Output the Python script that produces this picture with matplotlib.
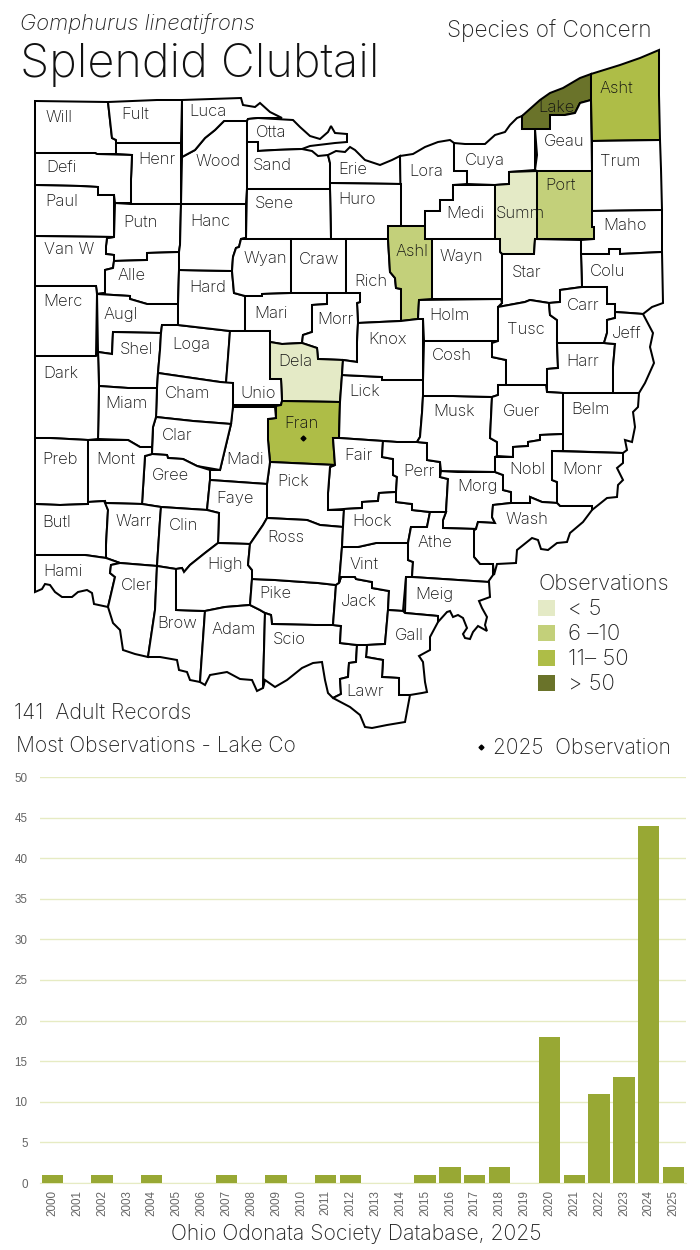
import matplotlib
matplotlib.use("Agg")
import matplotlib.pyplot as plt
from matplotlib.patches import Polygon, Rectangle

TEXT_FONT = "Inter"
plt.rcParams["font.family"] = [TEXT_FONT, "DejaVu Sans"]
plt.rcParams["font.weight"] = "light"

# bar chart data
years = list(range(2000, 2026))
counts = [1, 0, 1, 0, 1, 0, 0, 1, 0, 1, 0, 1, 1, 0, 0, 1, 2, 1, 2, 0, 18, 1, 11, 13, 44, 2]
y_ticks = [0, 5, 10, 15, 20, 25, 30, 35, 40, 45, 50]

# legend
class_labels = ["< 5", "6 –10", "11– 50", "> 50"]
class_colors = ["#E4EAC6", "#C3D07A", "#AEBD47", "#6A732A"]

# county outlines (pixel coords)
WILL = [(35,101),(108,102),(112,138),(116,140),(116,154),(97,154),(95,153),(35,153)]
FULT = [(108,102),(157,100),(182,100),(181,143),(116,143),(116,140),(112,138)]
HENR = [(116,143),(181,143),(181,204),(131,204),(131,179),(132,155),(116,154)]
DEFI = [(35,153),(95,153),(97,154),(132,155),(131,179),(131,203),(115,203),(114,195),(98,195),(98,187),(80,186),(35,185)]
PAUL = [(35,185),(80,186),(98,187),(98,195),(114,195),(114,237),(35,236)]
PUTN = [(115,203),(131,204),(181,204),(180,245),(179,252),(147,253),(147,260),(114,261),(114,255),(106,254),(106,246),(107,238),(114,237)]
VANW = [(35,236),(114,237),(107,238),(106,246),(106,254),(114,255),(114,261),(113,268),(105,270),(105,293),(97,294),(96,286),(35,286)]
ALLE = [(105,270),(113,268),(114,261),(147,260),(147,253),(179,252),(179,270),(178,304),(147,304),(130,299),(130,296),(97,294),(105,293)]
MERC = [(35,286),(96,286),(97,294),(96,356),(35,356)]
AUGL = [(97,294),(130,296),(130,299),(147,304),(178,304),(178,325),(162,325),(161,333),(113,332),(112,354),(98,352)]
SHEL = [(113,332),(161,333),(160,350),(158,373),(157,388),(128,388),(99,386),(98,352),(112,354)]
LOGA = [(162,325),(178,325),(230,331),(228,360),(226,383),(220,382),(158,373),(160,350),(161,333)]
HARD = [(179,270),(232,271),(234,293),(245,296),(245,331),(230,331),(178,325),(178,304)]
HANC = [(181,204),(246,204),(246,238),(241,239),(239,247),(236,248),(233,257),(232,271),(179,270),(179,252),(180,245)]
WOOD = [(182,157),(195,150),(205,138),(215,130),(224,121),(247,121),(247,189),(246,204),(181,204)]
LUCA = [(182,100),(241,98),(243,105),(255,107),(260,103),(270,112),(282,118),(258,118),(248,119),(247,121),(224,121),(215,130),(205,138),(195,150),(182,157)]
OTTA = [(247,121),(248,119),(258,118),(293,120),(300,127),(310,136),(320,139),(328,132),(331,126),(335,133),(347,134),(347,142),(335,143),(310,146),(302,149),(275,150),(258,151),(258,142),(247,142)]
SAND = [(247,142),(258,142),(258,151),(275,150),(302,149),(312,151),(318,156),(328,155),(330,163),(330,189),(247,189)]
ERIE = [(330,163),(328,155),(336,151),(345,152),(350,147),(355,150),(365,160),(380,165),(392,160),(400,156),(401,184),(330,183)]
LORA = [(400,156),(413,154),(425,147),(438,142),(450,140),(454,143),(454,171),(467,171),(467,184),(453,185),(453,200),(440,200),(440,211),(425,211),(425,226),(401,226)]
HURO = [(330,183),(401,184),(401,226),(388,226),(388,239),(331,239),(330,189)]
SENE = [(247,189),(330,189),(331,239),(241,239),(246,238)]
WYAN = [(241,239),(291,239),(291,293),(262,294),(262,296),(245,296),(234,293),(232,271),(233,257),(236,248),(239,247)]
CRAW = [(291,239),(346,239),(346,293),(327,293),(291,293)]
RICH = [(346,239),(388,239),(390,272),(395,278),(396,288),(401,289),(401,321),(358,323),(357,303),(360,302),(360,293),(346,293)]
ASHL = [(388,226),(425,226),(425,239),(432,239),(432,299),(419,300),(418,319),(401,321),(401,289),(396,288),(395,278),(390,272),(388,239)]
MEDI = [(453,185),(495,185),(495,239),(425,239),(425,211),(440,211),(440,200),(453,200)]
CUYA = [(454,143),(465,144),(485,144),(495,135),(505,132),(510,125),(517,118),(522,116),(522,129),(535,129),(535,170),(509,172),(509,184),(495,185),(467,184),(467,171),(454,171)]
LAKE = [(522,116),(540,100),(550,93),(563,88),(580,78),(591,74),(591,100),(580,103),(575,113),(565,115),(550,115),(550,129),(522,129)]
GEAU = [(550,115),(565,115),(575,113),(580,103),(591,100),(592,171),(537,171),(535,170),(537,155),(535,129),(550,129)]
ASHT = [(591,74),(620,65),(640,58),(659,50),(659,95),(660,140),(592,141),(591,100)]
TRUM = [(592,141),(660,140),(661,169),(662,210),(592,211)]
PORT = [(537,171),(592,171),(592,227),(594,227),(594,239),(537,239)]
SUMM = [(509,172),(537,171),(537,239),(535,239),(534,254),(502,254),(500,252),(500,239),(495,239),(495,185),(509,184)]
MAHO = [(592,211),(662,210),(662,252),(620,254),(620,249),(609,249),(609,254),(581,254),(581,240),(594,239),(594,227),(592,227)]
COLU = [(581,254),(609,254),(609,249),(620,249),(620,254),(662,252),(663,303),(652,307),(643,314),(630,313),(615,312),(615,304),(607,304),(607,287),(582,287)]
STAR = [(502,254),(534,254),(535,239),(581,240),(581,254),(582,287),(560,290),(560,302),(549,303),(530,300),(525,302),(498,307),(502,303)]
WAYN = [(432,239),(500,239),(500,252),(502,254),(502,303),(501,299),(432,299)]
HOLM = [(419,300),(501,299),(502,303),(498,307),(498,341),(424,341),(423,319),(418,319)]
MARI = [(245,296),(262,296),(262,294),(291,293),(327,293),(327,304),(312,305),(312,332),(303,335),(302,343),(282,344),(270,342),(270,331),(245,331)]
MORR = [(327,293),(360,293),(360,302),(357,303),(358,323),(357,342),(357,362),(343,360),(318,359),(317,348),(302,343),(303,335),(312,332),(312,305),(327,304)]
DELA = [(270,342),(282,344),(302,343),(317,348),(318,359),(343,360),(342,375),(340,402),(282,401),(281,379),(270,379)]
UNIO = [(230,331),(270,331),(270,379),(281,379),(282,401),(281,405),(233,405),(233,383),(226,383),(227,370)]
FRAN = [(282,401),(340,402),(339,438),(333,438),(335,465),(270,462),(268,440),(268,419),(276,418),(276,406),(281,405)]
LICK = [(342,375),(382,377),(382,380),(423,380),(423,396),(422,413),(420,437),(417,442),(397,442),(383,441),(339,438),(340,402)]
KNOX = [(358,323),(401,321),(418,319),(423,319),(423,380),(382,380),(382,377),(342,375),(343,360),(357,362),(357,342)]
FAIR = [(335,465),(333,438),(339,438),(383,441),(382,457),(393,459),(393,475),(397,477),(396,492),(379,493),(378,501),(362,502),(362,508),(344,509),(328,510),(328,493),(330,467)]
PICK = [(270,462),(335,465),(330,467),(328,493),(328,510),(344,510),(343,527),(320,525),(307,520),(267,518),(267,484)]
MADI = [(233,407),(275,407),(276,418),(268,419),(268,440),(270,462),(267,484),(210,480),(210,470),(220,470),(231,424),(232,412)]
CHAM = [(158,373),(220,382),(233,383),(233,407),(231,424),(193,421),(156,417),(157,388)]
CLAR = [(156,417),(193,421),(231,424),(220,470),(197,466),(183,459),(168,458),(167,455),(152,454),(153,427)]
GREE = [(145,456),(152,454),(167,455),(168,458),(183,459),(197,466),(210,470),(210,480),(207,510),(161,507),(142,504)]
FAYE = [(210,480),(267,484),(267,518),(263,525),(250,544),(218,543),(219,513),(207,510)]
MIAM = [(99,386),(128,388),(157,388),(156,417),(153,427),(152,447),(140,447),(128,440),(98,439)]
DARK = [(35,356),(96,356),(98,352),(99,386),(98,439),(88,440),(50,438),(35,438)]
PREB = [(35,438),(50,438),(88,440),(88,504),(60,505),(35,504)]
MONT = [(88,440),(128,440),(140,447),(152,447),(152,454),(145,456),(142,504),(105,503),(105,501),(88,502)]
BUTL = [(35,504),(60,505),(88,504),(88,502),(105,501),(108,510),(106,545),(106,558),(85,555),(35,555)]
WARR = [(105,503),(142,504),(161,507),(160,520),(157,566),(120,563),(106,558),(106,545),(108,510)]
CLIN = [(161,507),(207,510),(219,513),(218,543),(205,553),(190,565),(184,572),(182,568),(176,569),(157,566),(160,520)]
HAMI = [(35,555),(85,555),(106,558),(120,563),(111,565),(110,573),(115,577),(108,607),(94,604),(92,593),(87,590),(78,592),(72,597),(62,597),(55,592),(50,585),(45,584),(42,589),(35,592)]
CLER = [(111,565),(120,563),(157,566),(155,610),(148,657),(135,654),(123,650),(120,630),(113,623),(108,607),(115,577),(110,573)]
BROW = [(157,566),(176,569),(176,610),(205,611),(200,682),(190,680),(187,672),(179,670),(177,660),(160,657),(148,657),(155,610)]
HIGH = [(176,569),(182,568),(184,572),(190,565),(205,553),(218,543),(250,544),(248,565),(252,570),(252,579),(250,605),(225,607),(205,611),(176,610)]
ADAM = [(205,611),(225,607),(250,605),(260,610),(265,613),(263,688),(257,691),(252,680),(240,679),(227,672),(210,675),(205,685),(200,682)]
PIKE = [(252,579),(275,580),(318,583),(336,585),(333,625),(315,625),(272,624),(271,615),(265,613),(260,610),(250,605)]
ROSS = [(267,518),(307,520),(320,525),(343,527),(342,547),(339,583),(336,585),(318,583),(275,580),(252,579),(252,570),(248,565),(250,544),(263,525)]
SCIO = [(265,613),(271,615),(272,624),(315,625),(333,625),(341,626),(340,643),(357,645),(356,662),(349,663),(348,677),(340,679),(341,694),(333,698),(328,693),(325,680),(322,662),(313,663),(302,668),(287,680),(275,687),(265,680),(263,688)]
JACK = [(341,577),(355,577),(356,579),(372,582),(372,588),(389,591),(388,610),(385,644),(367,645),(357,645),(340,643),(341,626),(333,625),(336,585),(339,583)]
VINT = [(342,547),(358,547),(376,543),(408,543),(408,560),(413,562),(412,577),(406,577),(403,611),(388,610),(389,591),(372,588),(372,582),(356,579),(355,577),(341,577),(339,583)]
HOCK = [(344,509),(362,508),(362,502),(378,501),(379,493),(396,492),(396,502),(412,504),(412,510),(430,512),(427,527),(411,527),(408,543),(376,543),(358,547),(342,547),(343,527)]
PERR = [(383,441),(397,442),(417,442),(427,443),(427,460),(440,462),(440,477),(448,479),(446,512),(430,512),(412,510),(412,504),(396,502),(396,492),(397,477),(393,475),(393,459),(382,457)]
MORG = [(441,471),(458,472),(495,472),(503,475),(503,490),(511,492),(511,503),(493,505),(492,517),(495,523),(478,522),(476,529),(443,528),(443,520),(446,512),(448,479),(440,477)]
MUSK = [(423,396),(453,396),(492,397),(490,438),(497,442),(497,456),(495,457),(495,472),(441,471),(440,462),(427,460),(427,443),(417,442),(420,437),(422,413)]
COSH = [(424,341),(498,341),(492,343),(492,357),(506,360),(506,385),(498,385),(498,395),(492,397),(453,396),(423,396),(423,380)]
TUSC = [(498,307),(525,302),(530,300),(549,303),(550,315),(557,320),(557,343),(558,368),(547,369),(547,392),(546,385),(498,385),(506,385),(506,360),(492,357),(492,343),(498,341)]
CARR = [(560,290),(582,287),(607,287),(607,304),(615,304),(615,318),(607,320),(607,333),(604,343),(557,343),(557,320),(550,315),(549,303),(560,302)]
HARR = [(557,343),(604,343),(615,344),(613,367),(613,393),(563,393),(547,392),(547,369),(558,368)]
JEFF = [(615,318),(615,312),(630,313),(643,314),(653,333),(650,347),(654,363),(645,383),(639,393),(613,393),(613,367),(615,344),(604,343),(607,333),(607,320)]
BELM = [(563,393),(639,393),(638,407),(633,412),(635,427),(632,442),(625,440),(627,450),(623,453),(563,451)]
GUER = [(498,385),(546,385),(547,392),(563,393),(563,434),(540,435),(540,440),(528,442),(528,446),(513,447),(513,457),(497,456),(497,442),(490,438),(492,397),(498,395)]
NOBL = [(513,447),(528,446),(528,442),(540,440),(540,435),(563,434),(563,451),(552,451),(552,480),(557,482),(557,503),(542,502),(530,497),(530,503),(511,503),(511,492),(503,490),(503,475),(495,472),(495,457),(513,457)]
MONR = [(552,451),(623,453),(623,463),(617,468),(623,480),(618,485),(617,497),(607,498),(592,510),(592,506),(560,506),(557,503),(557,482),(552,480)]
WASH = [(493,505),(511,503),(530,503),(530,497),(542,502),(557,503),(560,506),(592,506),(592,510),(583,522),(570,533),(567,542),(557,543),(548,550),(541,549),(538,540),(532,538),(517,550),(516,563),(497,564),(494,575),(493,564),(480,564),(474,557),(474,530),(476,529),(478,522),(495,523),(492,517)]
ATHE = [(430,512),(446,512),(443,520),(443,528),(476,529),(474,530),(474,557),(480,564),(493,564),(493,575),(488,582),(412,577),(413,562),(408,560),(408,543),(411,527),(427,527)]
MEIG = [(412,577),(489,582),(490,597),(479,601),(482,608),(487,617),(485,625),(487,631),(478,626),(473,632),(470,639),(465,638),(463,634),(467,628),(463,618),(458,615),(453,617),(450,611),(447,612),(438,622),(438,616),(405,613),(406,577)]
GALL = [(388,610),(403,611),(405,613),(438,616),(438,622),(430,637),(430,650),(419,656),(423,662),(425,682),(427,692),(422,693),(410,695),(399,695),(399,678),(382,677),(383,660),(366,657),(367,645),(385,644)]
LAWR = [(357,645),(367,645),(366,657),(383,660),(382,677),(399,678),(399,695),(410,695),(405,722),(387,725),(372,728),(365,727),(360,715),(350,707),(333,698),(341,694),(340,679),(348,677),(349,663),(356,662)]

outlines = [WILL, FULT, HENR, DEFI, PAUL, PUTN, VANW, ALLE, MERC, AUGL, SHEL, LOGA, HARD, HANC, WOOD, LUCA,
            OTTA, SAND, ERIE, LORA, HURO, SENE, WYAN, CRAW, RICH, ASHL, MEDI, CUYA, LAKE, GEAU, ASHT, TRUM,
            PORT, SUMM, MAHO, COLU, STAR, WAYN, HOLM, MARI, MORR, DELA, UNIO, FRAN, LICK, KNOX, FAIR, PICK,
            MADI, CHAM, CLAR, GREE, FAYE, MIAM, DARK, PREB, MONT, BUTL, WARR, CLIN, HAMI, CLER, BROW, HIGH,
            ADAM, PIKE, ROSS, SCIO, JACK, VINT, HOCK, PERR, MORG, MUSK, COSH, TUSC, CARR, HARR, JEFF, BELM,
            GUER, NOBL, MONR, WASH, ATHE, MEIG, GALL, LAWR]

# county -> legend class, the others are white
filled = [(DELA, 0), (SUMM, 0), (ASHL, 1), (PORT, 1), (FRAN, 2), (ASHT, 2), (LAKE, 3)]

# county labels: name, left x, centre y
label_names = ["Will", "Fult", "Luca", "Otta", "Henr", "Wood", "Sand", "Erie", "Lora", "Cuya", "Geau", "Asht", "Lake",
               "Defi", "Paul", "Putn", "Hanc", "Sene", "Huro", "Medi", "Summ", "Port", "Trum", "Maho", "Van W", "Alle",
               "Wyan", "Craw", "Ashl", "Wayn", "Star", "Colu", "Hard", "Merc", "Augl", "Mari", "Rich", "Holm", "Carr",
               "Jeff", "Tusc", "Morr", "Knox", "Shel", "Loga", "Cosh", "Harr", "Dela", "Dark", "Miam", "Cham", "Unio",
               "Lick", "Musk", "Guer", "Belm", "Fran", "Clar", "Madi", "Preb", "Mont", "Fair", "Perr", "Gree", "Morg",
               "Nobl", "Monr", "Pick", "Faye", "Butl", "Warr", "Clin", "Hock", "Wash", "Athe", "Ross", "High", "Vint",
               "Hami", "Cler", "Meig", "Pike", "Jack", "Brow", "Adam", "Scio", "Gall", "Lawr"]
label_x = [45, 121, 189, 256, 138, 195, 253, 338, 409, 465, 544, 599, 538,
           46, 45, 123, 190, 255, 338, 446, 496, 545, 600, 603, 44, 117,
           244, 299, 395, 439, 512, 590, 189, 43, 103, 254, 354, 429, 567,
           612, 507, 317, 368, 120, 172, 432, 566, 278, 43, 105, 165, 240,
           349, 433, 503, 571, 284, 162, 226, 42, 96, 344, 403, 152, 457,
           509, 562, 277, 216, 42, 116, 169, 352, 505, 418, 267, 207, 349,
           43, 121, 415, 259, 341, 157, 211, 273, 395, 346]
label_y = [118, 114, 112, 132, 160, 162, 165, 170, 172, 160, 142, 88, 108,
           168, 201, 222, 221, 204, 199, 213, 214, 185, 161, 226, 250, 275,
           259, 259, 252, 256, 272, 271, 288, 301, 314, 313, 281, 315, 305,
           333, 330, 319, 339, 350, 344, 356, 361, 362, 374, 403, 394, 393,
           391, 412, 411, 410, 423, 436, 460, 459, 459, 456, 472, 475, 487,
           470, 469, 481, 499, 522, 521, 526, 522, 520, 542, 538, 565, 564,
           572, 586, 594, 594, 601, 624, 629, 640, 635, 691]

fig = plt.figure(figsize=(7, 12.5), dpi=100)
ax = fig.add_axes([0, 0, 1, 1])
ax.set_xlim(0, 700)
ax.set_ylim(1250, 0)
ax.axis("off")

fill_of = {id(c): class_colors[k] for c, k in filled}
for pts in outlines:
    ax.add_patch(Polygon(pts, closed=True, facecolor=fill_of.get(id(pts), "white"),
                         edgecolor="black", linewidth=1.45, joinstyle="miter"))

for name, x, y in zip(label_names, label_x, label_y):
    ax.text(x, y, name, fontsize=12, color="#111111", ha="left", va="center")

# 2025 observation marks
ax.plot([303], [438], marker="D", markersize=2.5, color="black")
ax.plot([481], [747], marker="D", markersize=2.5, color="black")

ax.text(20, 24, "Gomphurus lineatifrons", fontsize=15.8, style="italic", color="#222222", ha="left", va="center")
ax.text(20, 65, "Splendid Clubtail", fontsize=33.7, color="#111111", ha="left", va="center")
ax.text(447, 31, "Species of Concern", fontsize=16.25, color="#222222", ha="left", va="center")
ax.text(14, 713, "141  Adult Records", fontsize=15.4, color="#222222", ha="left", va="center")
ax.text(16, 746, "Most Observations - Lake Co", fontsize=15.1, color="#222222", ha="left", va="center")
ax.text(493, 748, "2025  Observation", fontsize=15.1, color="#222222", ha="left", va="center")
ax.text(538, 584, "Observations", fontsize=15.6, color="#222222", ha="left", va="center")
ax.text(171, 1234, "Ohio Odonata Society Database, 2025", fontsize=15.25, color="#222222", ha="left", va="center")

for i, (lab, col) in enumerate(zip(class_labels, class_colors)):
    y0 = 600 + i * 25
    ax.add_patch(Rectangle((538, y0), 17, 16, facecolor=col, edgecolor="none"))
    ax.text(568, y0 + 9, lab, fontsize=16, color="#222222", ha="left", va="center")

# bar chart
ax2 = fig.add_axes([40 / 700, 1 - 1183 / 1250, 646 / 700, 406 / 1250])
ax2.patch.set_alpha(0)
ax2.bar(years, counts, width=0.86, color="#98A834", zorder=3)
ax2.set_xlim(1999.5, 2025.5)
ax2.set_ylim(0, 50)
ax2.set_yticks(y_ticks)
ax2.set_xticks(years)
ax2.set_xticklabels(years, rotation=90, family="Liberation Sans", weight="normal", fontsize=8.4, color="#666666")
for t in ax2.get_yticklabels():
    t.set_family("Liberation Sans")
    t.set_weight("normal")
    t.set_fontsize(8.4)
    t.set_color("#666666")
ax2.tick_params(length=0, pad=9)
ax2.tick_params(axis="x", pad=5)
ax2.grid(axis="y", color="#E6EBC3", linewidth=1, zorder=0)
for side in ["top", "left", "right"]:
    ax2.spines[side].set_visible(False)
ax2.spines["bottom"].set_color("#E6EBC3")

fig.savefig("out.png", dpi=100)
